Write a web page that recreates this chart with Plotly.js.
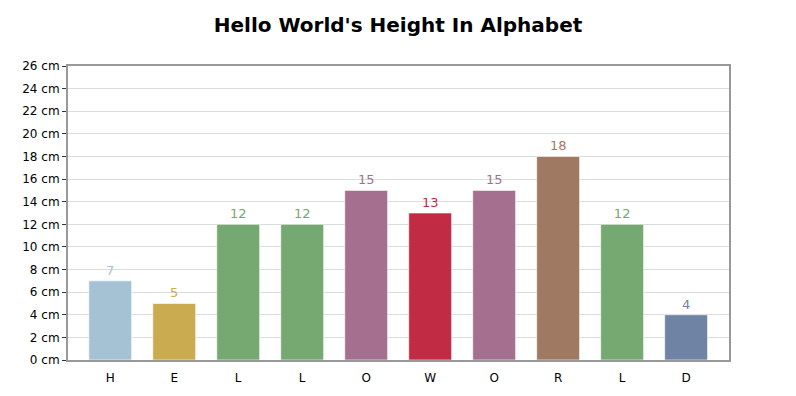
<!DOCTYPE html>
<html><head><meta charset="utf-8">
<script src="https://cdn.plot.ly/plotly-3.0.1.min.js"></script>
<style>body{margin:0;background:#fff}#c{width:796px;height:396px}</style>
</head><body><div id="c"></div>
<script>
const letters = ['H','E','L','L','O','W','O','R','L','D'];
const heights = [7,5,12,12,15,13,15,18,12,4];
const colors = ['#a5c2d5','#cbab4f','#76a871','#76a871','#a56f8f','#c12c44','#a56f8f','#9f7961','#76a871','#6f83a5'];
const yTicks = [0,2,4,6,8,10,12,14,16,18,20,22,24,26];
const yTickText = yTicks.map(v => v + ' cm');
const idx = letters.map((_, i) => i);

const trace = {
  type: 'bar', x: idx, y: heights, width: 0.67,
  marker: {color: colors, line: {color: 'rgba(255,255,255,0.6)', width: 1}},
  text: heights.map(String), textposition: 'outside', cliponaxis: false,
  textfont: {family: 'DejaVu Sans, Verdana, sans-serif', size: 13, color: colors},
  hoverinfo: 'none'
};
const layout = {
  width: 796, height: 396,
  margin: {l: 68, r: 67, t: 66, b: 36},
  paper_bgcolor: '#fff', plot_bgcolor: '#fff',
  showlegend: false,
  title: {text: "<b>Hello World's Height In Alphabet</b>", x: 0.5, xanchor: 'center', y: 0.938, yanchor: 'middle',
    font: {family: 'DejaVu Sans, Verdana, sans-serif', size: 20, color: '#000'}},
  xaxis: {range: [-0.66, 9.67], tickmode: 'array', tickvals: idx, ticktext: letters,
    showgrid: false, zeroline: false, showline: true, linecolor: '#999', linewidth: 2, mirror: true,
    ticks: 'outside', ticklen: 6, tickcolor: 'rgba(0,0,0,0)',
    tickfont: {family: 'DejaVu Sans, Verdana, sans-serif', size: 12, color: '#000'}, fixedrange: true},
  yaxis: {range: [0, 26], tickmode: 'array', tickvals: yTicks, ticktext: yTickText,
    showgrid: true, gridcolor: '#dcdcdc', gridwidth: 1, zeroline: false,
    showline: true, linecolor: '#999', linewidth: 2, mirror: true,
    ticks: 'outside', ticklen: 4, tickcolor: '#333', tickwidth: 1,
    tickfont: {family: 'DejaVu Sans, Verdana, sans-serif', size: 12, color: '#000'}, fixedrange: true}
};
Plotly.newPlot('c', [trace], layout, {displayModeBar: false, staticPlot: true});
</script></body></html>
